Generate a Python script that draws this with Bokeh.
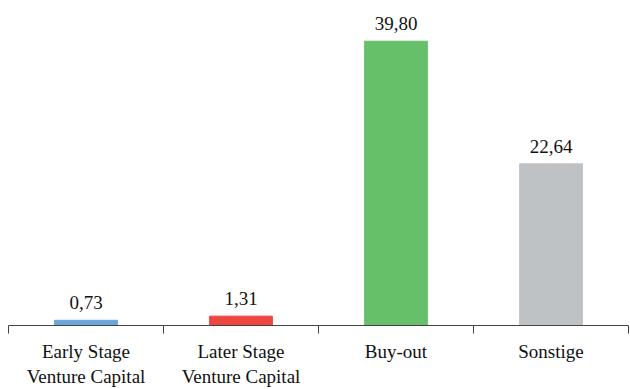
from bokeh.plotting import figure
from bokeh.models import ColumnDataSource, Range1d, LinearAxis, FixedTicker
from bokeh.core.properties import value
from bokeh.embed import file_html
from bokeh.resources import INLINE

categories = ["Early Stage\nVenture Capital", "Later Stage\nVenture Capital", "Buy-out", "Sonstige"]
values = [0.73, 1.31, 39.80, 22.64]
labels = ["0,73", "1,31", "39,80", "22,64"]
colors = ["#6AA6DA", "#EE4540", "#66C06A", "#BFC2C4"]

xs = [i + 0.5 for i in range(len(categories))]
bounds = [i for i in range(len(categories) + 1)]
src = ColumnDataSource(dict(x=xs, top=values, lab=labels, color=colors))

p = figure(width=630, height=389, output_backend="svg", toolbar_location=None,
           x_range=Range1d(0, 4), y_range=Range1d(0, 45.5),
           x_axis_location=None, y_axis_location=None,
           min_border_left=8, min_border_right=2, min_border_top=0, min_border_bottom=64)
p.outline_line_color = None
p.grid.visible = False
p.background_fill_color = "white"

p.vbar(x="x", top="top", width=0.405, bottom=0, color="color", source=src)
p.text(x="x", y="top", text="lab", source=src, text_align="center", text_baseline="bottom",
       y_offset=-11, text_font=value("Liberation Serif"), text_font_size="19px", text_color="#111111")

ax = LinearAxis(ticker=FixedTicker(ticks=xs, minor_ticks=bounds))
ax.major_label_overrides = {x: c for x, c in zip(xs, categories)}
ax.axis_line_color = "#444444"
ax.major_tick_line_color = None
ax.major_tick_out = 0
ax.major_tick_in = 0
ax.minor_tick_line_color = "#444444"
ax.minor_tick_out = 8
ax.minor_tick_in = 0
ax.major_label_standoff = 7
ax.major_label_text_font = "Liberation Serif"
ax.major_label_text_font_size = "19px"
ax.major_label_text_color = "#111111"
p.add_layout(ax, "below")

open("out.html", "w").write(file_html(p, INLINE))
